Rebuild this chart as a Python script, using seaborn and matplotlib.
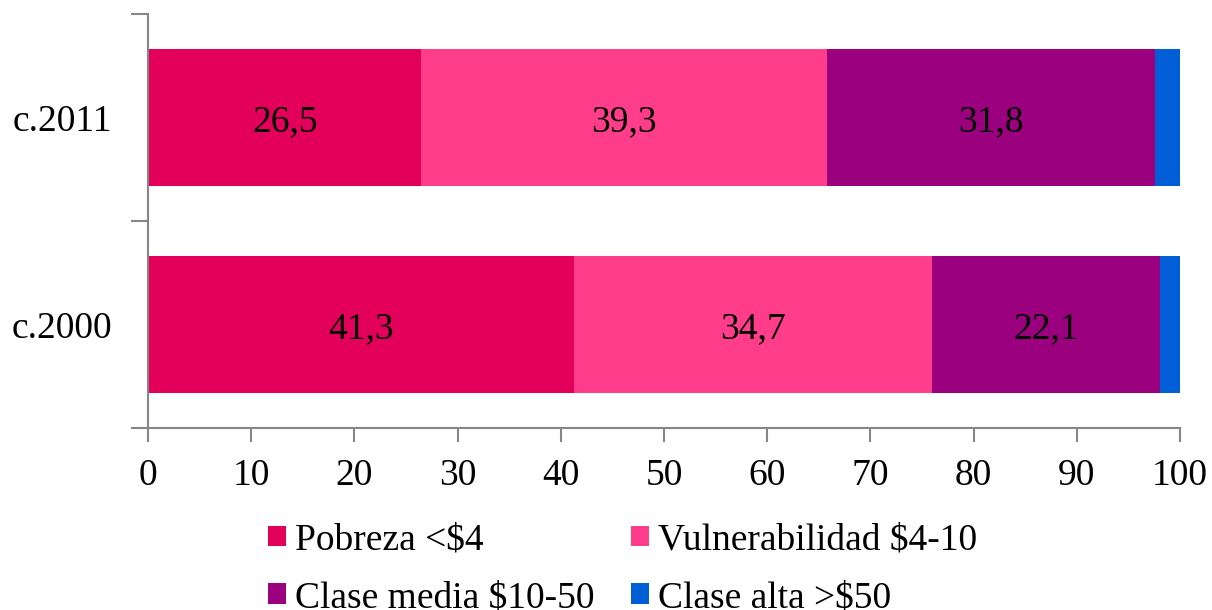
import matplotlib
matplotlib.use("Agg")
import matplotlib.pyplot as plt
import seaborn as sns
import pandas as pd
import numpy as np
from matplotlib.patches import Patch

periods = ["c.2011", "c.2000"]
series = ["Pobreza <$4", "Vulnerabilidad $4-10", "Clase media $10-50", "Clase alta >$50"]
pobreza = [26.5, 41.3]
vulnerabilidad = [39.3, 34.7]
clase_media = [31.8, 22.1]
clase_alta = [2.4, 1.9]
colors = ["#E2005A", "#FF3D8B", "#9B007E", "#005FD6"]
xticks = [0, 10, 20, 30, 40, 50, 60, 70, 80, 90, 100]

sns.set_style("white")
plt.rcParams["font.family"] = ["Liberation Serif", "DejaVu Serif"]
FS = 27

values = [pobreza, vulnerabilidad, clase_media, clase_alta]
cum = np.cumsum(np.array(values), axis=0)

fig = plt.figure(figsize=(12.12, 6.10), dpi=100)
ax = fig.add_axes([148/1212, 1-428/610, (1180-148)/1212, (428-14)/610])

# draw cumulative totals from largest to smallest so segments stack
for i in range(len(series)-1, -1, -1):
    df = pd.DataFrame({"period": periods, "value": cum[i]})
    sns.barplot(data=df, x="value", y="period", order=periods, color=colors[i],
                width=0.66, ax=ax, saturation=1, edgecolor="none", linewidth=0)

# labels
for i in range(3):
    for j, p in enumerate(periods):
        left = cum[i][j] - values[i][j]
        ax.text(left + values[i][j]/2, j, f"{values[i][j]:.1f}".replace(".", ","),
                ha="center", va="center_baseline", fontsize=FS, color="black")

ax.set_xlim(0, 100)
ax.set_ylim(1.5, -0.5)
ax.set_xticks(xticks)
ax.set_xticklabels([str(t) for t in xticks], fontsize=FS, color="black")
ax.set_yticks([-0.5, 0.5, 1.5])
ax.set_yticklabels([])
ax.set_yticks([0, 1], minor=True)
ax.set_yticklabels(periods, minor=True, fontsize=FS, color="black",
                   va="center_baseline")
ax.set_xlabel("")
ax.set_ylabel("")

gray = "#868686"
for s in ["top", "right"]:
    ax.spines[s].set_visible(False)
for s in ["left", "bottom"]:
    ax.spines[s].set_color(gray)
    ax.spines[s].set_linewidth(1.5)
ax.tick_params(axis="x", which="major", direction="out", length=10, width=1.5,
               color=gray, pad=12, bottom=True)
ax.tick_params(axis="y", which="major", direction="out", length=12, width=1.5,
               color=gray, left=True)
ax.tick_params(axis="y", which="minor", length=0, pad=26)

handles = [Patch(facecolor=c, edgecolor="none") for c in colors]
order = [0, 2, 1, 3]
fig.legend([handles[i] for i in order], [series[i] for i in order], ncol=2,
           loc="center left", bbox_to_anchor=(268/1212, 1-569/610),
           frameon=False, fontsize=FS, labelcolor="black",
           handlelength=0.48, handleheight=0.48,
           handletextpad=0.25, columnspacing=0.95, labelspacing=0.62,
           borderaxespad=0, borderpad=0)

fig.savefig("out.png", dpi=100)
